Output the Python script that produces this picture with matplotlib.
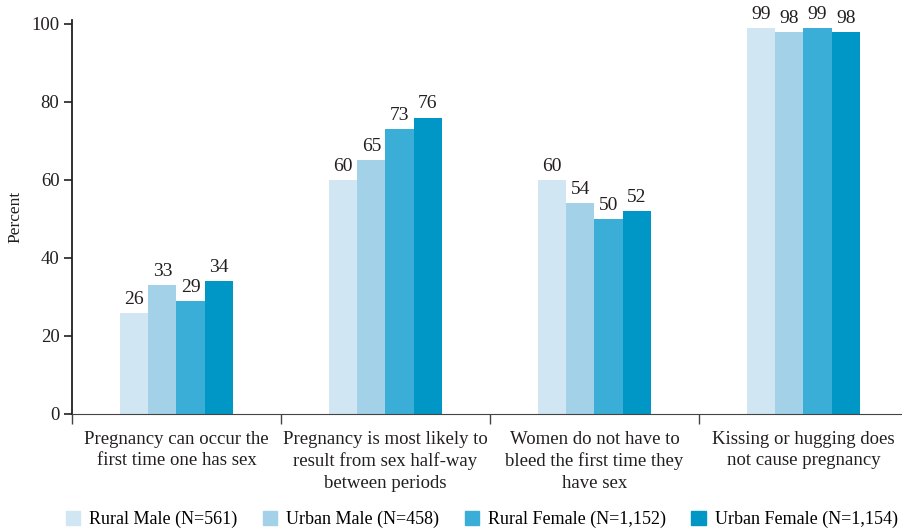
import numpy as np
import matplotlib.pyplot as plt
from matplotlib.patches import Patch

CATEGORIES = ["Pregnancy can occur the\nfirst time one has sex",
              "Pregnancy is most likely to\nresult from sex half-way\nbetween periods",
              "Women do not have to\nbleed the first time they\nhave sex",
              "Kissing or hugging does\nnot cause pregnancy"]
SERIES = ["Rural Male (N=561)", "Urban Male (N=458)",
          "Rural Female (N=1,152)", "Urban Female (N=1,154)"]
RURAL_MALE = [26, 60, 60, 99]
URBAN_MALE = [33, 65, 54, 98]
RURAL_FEMALE = [29, 73, 50, 99]
URBAN_FEMALE = [34, 76, 52, 98]
COLORS = ["#D0E6F3", "#A3D2E8", "#3AAED6", "#0096C6"]

plt.rcParams['font.family'] = ['Liberation Serif', 'DejaVu Serif']


def main():
    values = [RURAL_MALE, URBAN_MALE, RURAL_FEMALE, URBAN_FEMALE]
    fig = plt.figure(figsize=(9.03, 5.31), dpi=100)
    ax = fig.add_axes([72/903, 117/531, 831/903, 394/531])

    centers = np.arange(len(CATEGORIES)) + 0.5
    width = 0.135
    for i, vals in enumerate(values):
        x = centers + (i - 1.5) * width
        ax.bar(x, vals, width, color=COLORS[i], label=SERIES[i])
        for xi, v in zip(x, vals):
            ax.text(xi, v + 1.3, f"{v}", ha='center', va='bottom',
                    fontsize=14, color='#231f20')

    ax.set_xlim(0, 831/209)
    ax.set_ylim(0, 101)
    ax.set_yticks([0, 20, 40, 60, 80, 100])
    ax.tick_params(axis='y', labelsize=13.5, length=6, width=1.2,
                   colors='#231f20', pad=3)
    ax.set_xticks([0, 1, 2, 3])
    ax.set_xticklabels([])
    ax.set_xticks(centers, minor=True)
    ax.set_xticklabels(CATEGORIES, minor=True, fontsize=13.5, color='#231f20',
                       linespacing=1.35)
    ax.tick_params(axis='x', which='major', length=7, width=1.0, color='#444444')
    ax.tick_params(axis='x', which='minor', length=0, pad=12)
    ax.spines['top'].set_visible(False)
    ax.spines['right'].set_visible(False)
    ax.spines['left'].set_linewidth(1.3)
    ax.spines['left'].set_color('#231f20')
    ax.spines['bottom'].set_color('#444444')
    ax.set_ylabel("Percent", fontsize=12.5, color='#231f20', labelpad=6)

    handles = [Patch(color=c) for c in COLORS]
    fig.legend(handles, SERIES, loc='lower left', bbox_to_anchor=(0.055, -0.025),
               ncol=4, frameon=False, fontsize=13, handlelength=0.8,
               handleheight=0.8, handletextpad=0.5, columnspacing=1.4)

    fig.savefig("out.png", dpi=100)


if __name__ == "__main__":
    main()
